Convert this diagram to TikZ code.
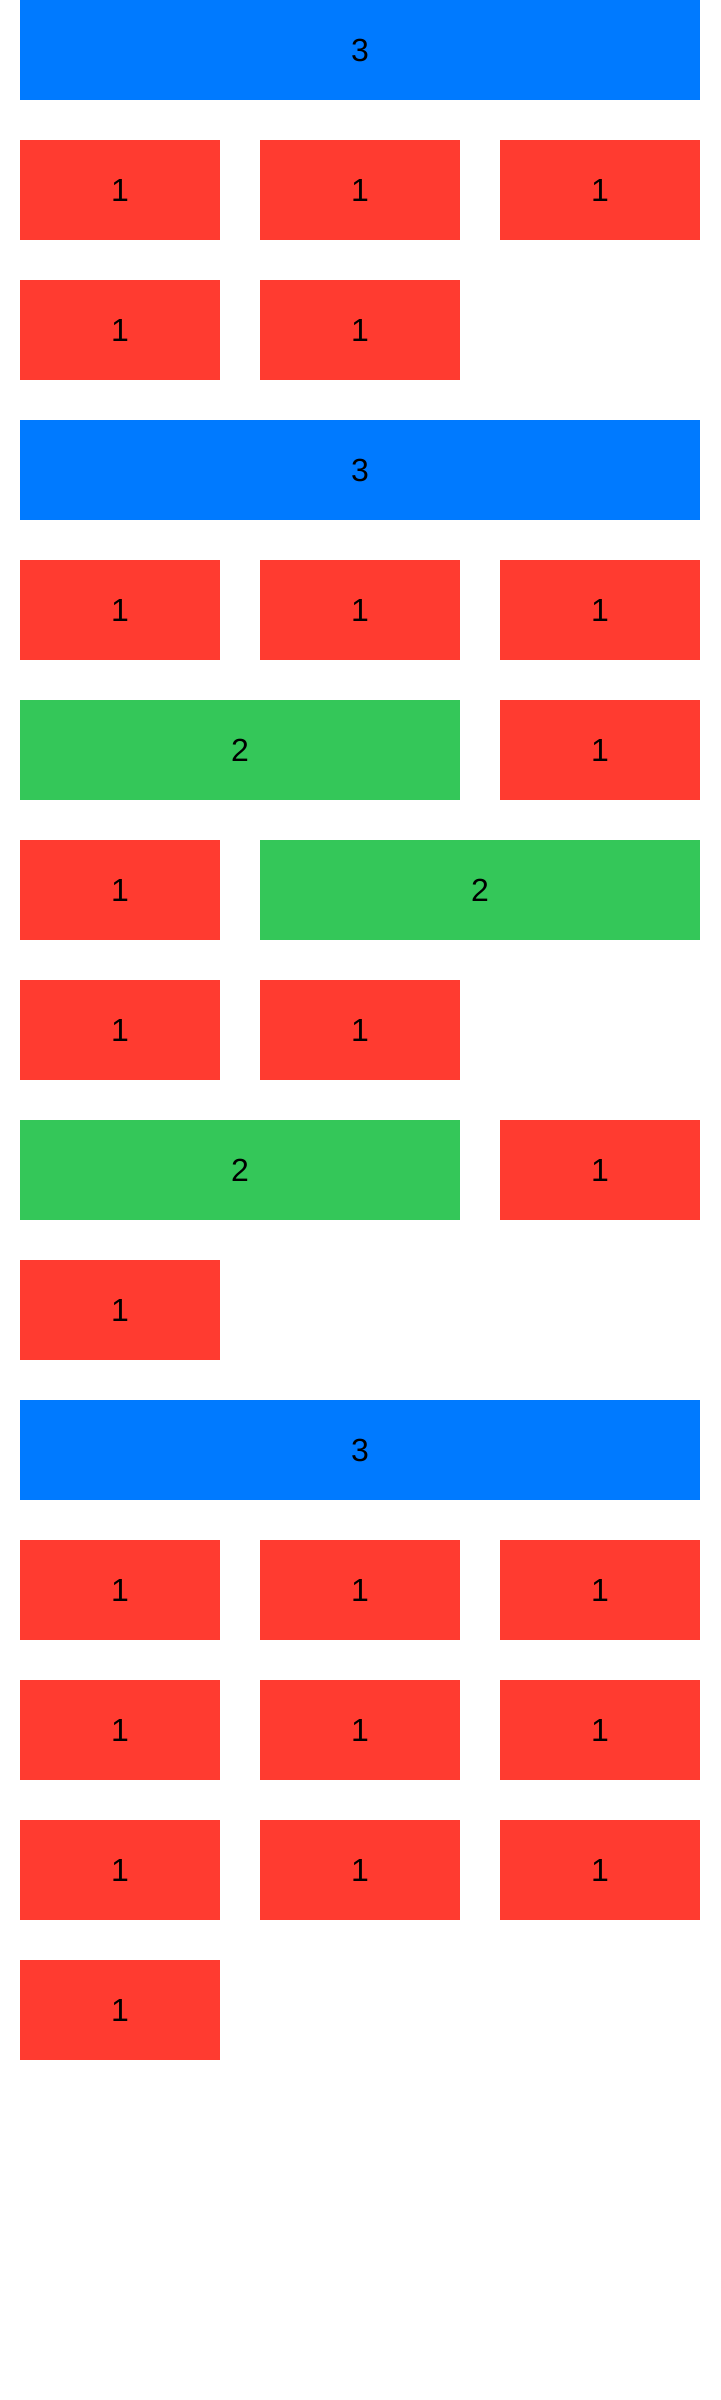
\documentclass[tikz,border=0pt]{standalone}
\usepackage{fontspec}
\setmainfont{Liberation Sans}
\usepackage{tikz}
\usetikzlibrary{positioning}
\definecolor{sysblue}{HTML}{007AFF}
\definecolor{sysred}{HTML}{FF3B30}
\definecolor{sysgreen}{HTML}{34C759}
\tikzset{cell/.style={rectangle, inner sep=0pt, outer sep=0pt, minimum height=100pt, font=\fontsize{32}{38}\selectfont, text=black}}
\newcommand{\onecell}[2] {\node at (#1) (#2) [cell, fill=sysred, minimum width=200pt] {1};}
\newcommand{\twocell}[2] {\node at (#1) (#2) [cell, fill=sysgreen, minimum width=440pt] {2};}
\newcommand{\threecell}[2] {\node at (#1) (#2) [cell, fill=sysblue, minimum width=680pt] {3};}

\begin{document}
\begin{tikzpicture}[x=1pt, y=-1pt]
\useasboundingbox (0,0) rectangle (720,2400);
\threecell {360,50} {a};
\onecell {120,190} {b1};
\onecell {360,190} {b2};
\onecell {600,190} {b3};
\onecell {120,330} {c1};
\onecell {360,330} {c2};

\threecell {360,470} {d};
\onecell {120,610} {e1};
\onecell {360,610} {e2};
\onecell {600,610} {e3};
\twocell {240,750} {f1};
\onecell {600,750} {f2};
\onecell {120,890} {g1};
\twocell {480,890} {g2};
\onecell {120,1030} {h1};
\onecell {360,1030} {h2};
\twocell {240,1170} {i1};
\onecell {600,1170} {i2};
\onecell {120,1310} {j};

\threecell {360,1450} {k};
\onecell {120,1590} {l1};
\onecell {360,1590} {l2};
\onecell {600,1590} {l3};
\onecell {120,1730} {m1};
\onecell {360,1730} {m2};
\onecell {600,1730} {m3};
\onecell {120,1870} {n1};
\onecell {360,1870} {n2};
\onecell {600,1870} {n3};
\onecell {120,2010} {o};
\end{tikzpicture}
\end{document}
